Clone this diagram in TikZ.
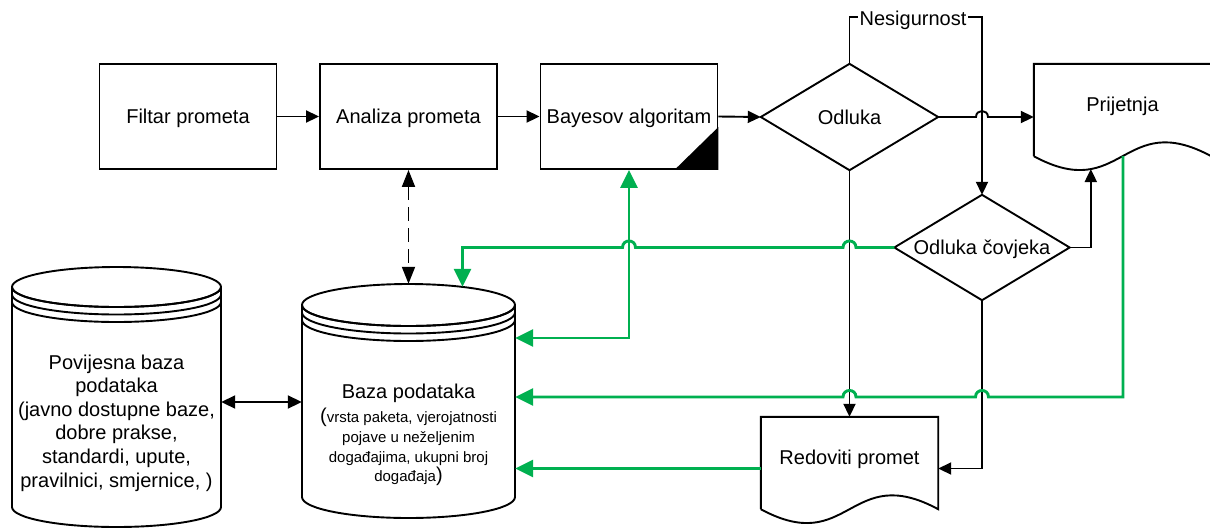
\documentclass[tikz,border=0pt]{standalone}
\usepackage{fontspec}
\setmainfont{Liberation Sans}
\usetikzlibrary{arrows.meta,calc}
\definecolor{grn}{RGB}{0,176,80}
\newcommand\drawcyl[5]{% left, right, top centre y, bottom centre y, ry
  \pgfmathsetmacro\cylcx{(#1+#2)/2}%
  \pgfmathsetmacro\cylrx{(#2-#1)/2}%
  \pgfmathsetmacro\cylkx{0.5523*\cylrx}%
  \pgfmathsetmacro\cylky{0.5523*#5}%
  \draw[ln] (\cylcx,#3) ellipse[x radius=\cylrx pt, y radius=#5 pt];
  \foreach \off in {0,7.5,15}{%
    \draw[ln] (#1,#3+\off) .. controls (#1,#3+\off+\cylky) and (\cylcx-\cylkx,#3+\off+#5) .. (\cylcx,#3+\off+#5) .. controls (\cylcx+\cylkx,#3+\off+#5) and (#2,#3+\off+\cylky) .. (#2,#3+\off);}
  \draw[ln] (#1,#3) -- (#1,#4) .. controls (#1,#4+\cylky) and (\cylcx-\cylkx,#4+#5) .. (\cylcx,#4+#5) .. controls (\cylcx+\cylkx,#4+#5) and (#2,#4+\cylky) .. (#2,#4) -- (#2,#3);
}
\newcommand\drawdoc[1]{\draw[ln] (#1.south west) -- (#1.north west) -- (#1.north east) -- (#1.south east) .. controls ($(#1.south)+(0,-48)$) and ($(#1.south)+(0,48)$) .. (#1.south west);}
\newcommand\drawdia[1]{\draw[ln] (#1.west) -- (#1.north) -- (#1.east) -- (#1.south) -- cycle;}
\begin{document}
\begin{tikzpicture}[x=1pt,y=-1pt,
  ln/.style={line width=1.9pt, draw=black, line join=miter},
  txt/.style={font=\fontsize{20}{24}\selectfont, inner sep=0pt, text height=14.5pt, text depth=0pt},
  box/.style={ln, txt, minimum width=177pt, minimum height=105pt},
  dia/.style={txt, minimum width=177pt, minimum height=106pt},
  doc/.style={inner sep=0pt, minimum width=177pt, minimum height=92pt},
  arr/.style={ln, -{Triangle[length=13pt,width=12pt]}},
  garr/.style={line width=2.9pt, draw=grn, -{Triangle[length=18pt,width=17pt]}},
  gdbl/.style={line width=2.9pt, draw=grn, {Triangle[length=18pt,width=17pt]}-{Triangle[length=18pt,width=17pt]}}
]
\useasboundingbox (0,0) rectangle (1210,531);

% boxes
\node[box] (filtar) at (188,116.5) {Filtar prometa};
\node[box] (analiza) at (408.5,116.5) {Analiza prometa};
\node[box] (bayes) at (629,116.5) {Bayesov algoritam};
\fill (bayes.south east) -- ++(-44,0) -- ++(44,-43) -- cycle;

% decisions
\node[dia] (odluka) at (849.5,117) {Odluka};
\drawdia{odluka}
\node[dia, minimum width=175pt, minimum height=105pt] (covjek) at (982,247.5) {Odluka čovjeka};
\drawdia{covjek}

% documents
\node[doc] (prij) at (1122.5,110) {};
\drawdoc{prij}
\node[txt] (prijt) at (1122.5,104) {Prijetnja};
\node[doc] (redov) at (849.5,463) {};
\drawdoc{redov}
\node[txt] (redovt) at (849.5,457) {Redoviti promet};

% databases
\node[inner sep=0pt, minimum width=213pt, minimum height=234pt] (baza) at (408.5,401) {};
\drawcyl{302}{515}{305}{497}{21}
\node[inner sep=0pt, minimum width=209pt, minimum height=261pt] (pov) at (116.5,397.5) {};
\drawcyl{12}{221}{287}{507}{20}

\node[font=\fontsize{20}{23.6}\selectfont, align=center, inner sep=0pt] (povt) at (116.5,423) {Povijesna baza\\podataka\\(javno dostupne baze,\\dobre prakse,\\standardi, upute,\\pravilnici, smjernice, )};
\node[txt] (bazat) at (408.5,390.75) {Baza podataka};
\node[font=\fontsize{15}{19.7}\selectfont, align=center, inner sep=0pt] (bazas) at (408.5,447) {{\fontsize{20}{19.7}\selectfont(}vrsta paketa, vjerojatnosti\\pojave u neželjenim\\događajima, ukupni broj\\događaja{\fontsize{20}{19.7}\selectfont)}};

% helper levels
\coordinate (j1) at (covjek.north |- odluka.east);
\coordinate (yA) at (0,397);
\coordinate (yB) at (0,338);
\coordinate (yC) at ($(redov.west)+(0,5.5)$);
\coordinate (yD) at (0,402);
\coordinate (g1) at ($(prij.south)+(0.5,0)$);
\coordinate (gtop) at (462.5,286.8);
\coordinate (ptarget) at ($(prij.south west)+(57,12.8)$);

% black connectors
\draw[arr] (filtar.east) -- (analiza.west);
\draw[arr] (analiza.east) -- (bayes.west);
\draw[arr] (bayes.east) -- (odluka.west);
\draw[arr] (odluka.north) -- ++(0,-47) -| (covjek.north);
\node[txt, fill=white, inner xsep=1.5pt] (nes) at (913,18.3) {Nesigurnost};
\draw[arr] (odluka.east) -- ($(j1)+(-6,0)$) .. controls +(0,-8) and +(0,-8) .. ($(j1)+(6,0)$) -- (prij.west |- odluka.east);
\draw[arr] (odluka.south) -- (redov.north);
\draw[arr] (covjek.east) -| (ptarget);
\draw[arr] (covjek.south) |- (yC -| redov.east);
\draw[ln, dash pattern=on 14pt off 7pt, {Triangle[length=17pt,width=13pt]}-{Triangle[length=17pt,width=13pt]}] (analiza.south) -- (baza.north);
\draw[ln, {Triangle[length=14pt,width=13pt]}-{Triangle[length=14pt,width=13pt]}] (pov.east |- yD) -- (baza.west |- yD);

% green connectors
\draw[garr] (g1) -- (g1 |- yA) -- ($(covjek.south |- yA)+(6.5,0)$) .. controls +(0,-8.7) and +(0,-8.7) .. ($(covjek.south |- yA)+(-6.5,0)$) -- ($(odluka.south |- yA)+(6.5,0)$) .. controls +(0,-8.7) and +(0,-8.7) .. ($(odluka.south |- yA)+(-6.5,0)$) -- (baza.east |- yA);
\draw[garr] (covjek.west) -- ($(odluka.south |- covjek.west)+(6.5,0)$) .. controls +(0,-8.7) and +(0,-8.7) .. ($(odluka.south |- covjek.west)+(-6.5,0)$) -- ($(bayes.south |- covjek.west)+(6.5,0)$) .. controls +(0,-8.7) and +(0,-8.7) .. ($(bayes.south |- covjek.west)+(-6.5,0)$) -- (gtop |- covjek.west) -- (gtop);
\draw[gdbl] (baza.east |- yB) -| (bayes.south);
\draw[garr] (yC) -- (baza.east |- yC);
\end{tikzpicture}
\end{document}
